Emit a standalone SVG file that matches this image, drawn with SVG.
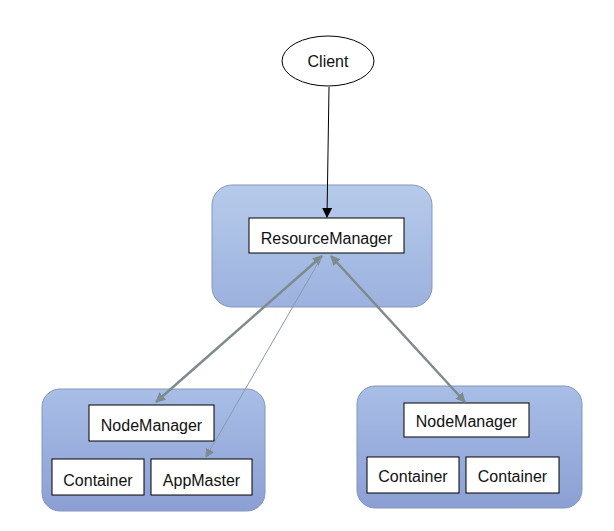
<svg xmlns="http://www.w3.org/2000/svg" width="614" height="531" viewBox="0 0 614 531">
<defs>
<linearGradient id="gTop" x1="0" y1="0" x2="0" y2="1">
<stop offset="0" stop-color="#b6cbea"/>
<stop offset="1" stop-color="#9cb1de"/>
</linearGradient>
<linearGradient id="gBot" x1="0" y1="0" x2="0" y2="1">
<stop offset="0" stop-color="#a8bee6"/>
<stop offset="1" stop-color="#8c9fd4"/>
</linearGradient>
<marker id="ab" viewBox="0 0 10 10" refX="9" refY="5" markerWidth="4" markerHeight="4" orient="auto-start-reverse" markerUnits="strokeWidth">
<path d="M0,0 L10,5 L0,10 z" fill="#7d8a8e"/>
</marker>
<marker id="abThin" viewBox="0 0 10 10" refX="9" refY="5" markerWidth="9" markerHeight="9" orient="auto" markerUnits="strokeWidth">
<path d="M0,0 L10,5 L0,10 z" fill="#7d8a8e"/>
</marker>
<marker id="ak" viewBox="0 0 10 10" refX="9" refY="5" markerWidth="10" markerHeight="10" orient="auto" markerUnits="strokeWidth">
<path d="M0,0 L10,5 L0,10 z" fill="#000"/>
</marker>
</defs>
<style>
.grp{stroke:#8596ba;stroke-width:1}
.box{fill:#fff;stroke:#000;stroke-width:1}
text{font-family:"Liberation Sans",Arial,sans-serif;font-size:16px;fill:#111;text-anchor:middle}
.conn{fill:none;stroke:#7d8a8e}
</style>
<rect width="614" height="531" fill="#fff"/>
<g id="rm-group">
<rect class="grp" x="212" y="185" width="220" height="122" rx="20" fill="url(#gTop)"/>
</g>
<g id="node1-group">
<rect class="grp" x="42" y="389" width="223" height="122" rx="18" fill="url(#gBot)"/>
</g>
<g id="node2-group">
<rect class="grp" x="357" y="386" width="225" height="122" rx="18" fill="url(#gBot)"/>
</g>
<g id="client">
<ellipse cx="328" cy="61" rx="46" ry="25" fill="#fff" stroke="#000" stroke-width="1"/>
<text x="328" y="67">Client</text>
</g>
<g id="resourcemanager">
<rect class="box" x="249" y="218" width="155" height="35"/>
<text x="326.5" y="244">ResourceManager</text>
</g>
<g id="nodemanager1">
<rect class="box" x="89" y="405" width="125" height="36"/>
<text x="151.5" y="431">NodeManager</text>
</g>
<g id="container1">
<rect class="box" x="52" y="459" width="92" height="36"/>
<text x="98" y="486">Container</text>
</g>
<g id="appmaster">
<rect class="box" x="151" y="459" width="101" height="36"/>
<text x="201.5" y="486">AppMaster</text>
</g>
<g id="nodemanager2">
<rect class="box" x="404" y="403" width="125" height="34"/>
<text x="466.5" y="427">NodeManager</text>
</g>
<g id="container2">
<rect class="box" x="367" y="457" width="92" height="36"/>
<text x="413" y="482">Container</text>
</g>
<g id="container3">
<rect class="box" x="466" y="457" width="93" height="36"/>
<text x="512.5" y="482">Container</text>
</g>
<g id="connectors">
<line x1="329" y1="87" x2="327" y2="217" stroke="#000" stroke-width="1" marker-end="url(#ak)"/>
<line class="conn" x1="322" y1="256" x2="156" y2="402" stroke-width="2.5" marker-start="url(#ab)" marker-end="url(#ab)"/>
<line class="conn" x1="331" y1="256" x2="465" y2="402" stroke-width="2.5" marker-start="url(#ab)" marker-end="url(#ab)"/>
<line x1="321" y1="258" x2="206" y2="457" stroke="#8a99ab" stroke-width="1" marker-end="url(#abThin)"/>
</g>
</svg>
